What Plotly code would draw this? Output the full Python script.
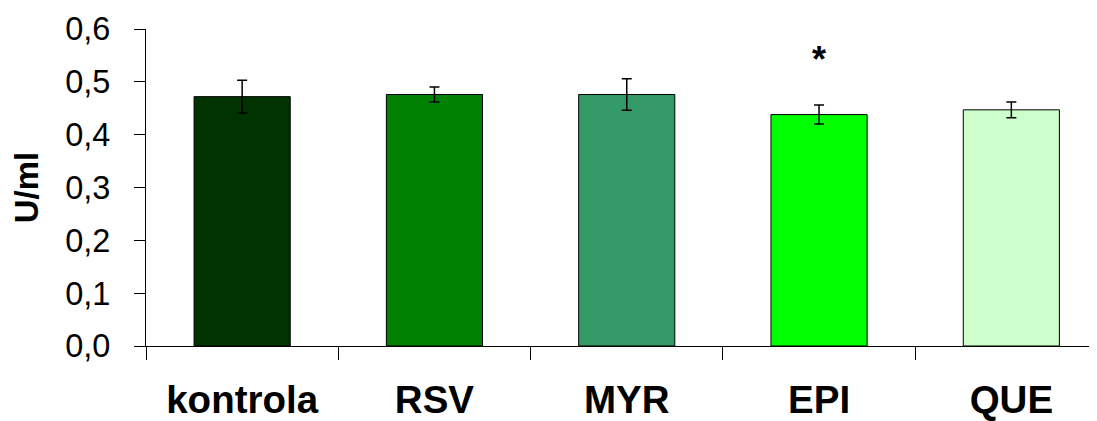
import plotly.graph_objects as go

categories = ["kontrola", "RSV", "MYR", "EPI", "QUE"]
values = [0.472, 0.476, 0.476, 0.438, 0.447]
errors = [0.031, 0.014, 0.030, 0.018, 0.015]
colors = ["#003300", "#008000", "#339966", "#00ff00", "#ccffcc"]
y_ticks = [0.0, 0.1, 0.2, 0.3, 0.4, 0.5, 0.6]
y_tick_labels = ["0,0", "0,1", "0,2", "0,3", "0,4", "0,5", "0,6"]
star_category = "EPI"
star_y = 0.556

FONT = "Liberation Sans, Arial, sans-serif"

fig = go.Figure()
fig.add_trace(go.Bar(
    x=categories,
    y=values,
    marker=dict(color=colors, line=dict(color="black", width=1)),
    error_y=dict(type="data", array=errors, visible=True,
                 color="black", thickness=1.5, width=5),
    width=0.5,
))

fig.add_annotation(x=star_category, y=star_y, text="<b>*</b>", showarrow=False,
                   font=dict(family=FONT, size=36, color="black"),
                   xanchor="center", yanchor="middle", yshift=-7)

fig.update_layout(
    width=1097, height=421,
    margin=dict(l=138, r=0, t=21, b=83),
    paper_bgcolor="white", plot_bgcolor="white",
    showlegend=False,
    font=dict(family=FONT, color="black"),
)
fig.update_xaxes(
    type="category",
    range=[-0.5, 4.487],
    automargin=False,
    showline=True, linecolor="black", linewidth=1.2,
    ticks="outside", tickson="boundaries", ticklen=13, tickcolor="black", tickwidth=1,
    tickfont=dict(family=FONT, size=38.5, color="black"),
    tickvals=categories,
    ticktext=["<b>%s</b>" % c for c in categories],
    ticklabelstandoff=20,
    showgrid=False, zeroline=False,
)
fig.update_yaxes(
    range=[0, 0.6],
    automargin=False,
    tickvals=y_ticks, ticktext=y_tick_labels,
    showline=True, linecolor="black", linewidth=1.2,
    ticks="outside", ticklen=11, tickcolor="black", tickwidth=1,
    tickfont=dict(family=FONT, size=32.5, color="black"),
    ticklabelstandoff=17,
    showgrid=False, zeroline=False,
    title=dict(text="<b>U/ml</b>", font=dict(family=FONT, size=33, color="black"), standoff=20),
)

fig.write_html("out.html")
